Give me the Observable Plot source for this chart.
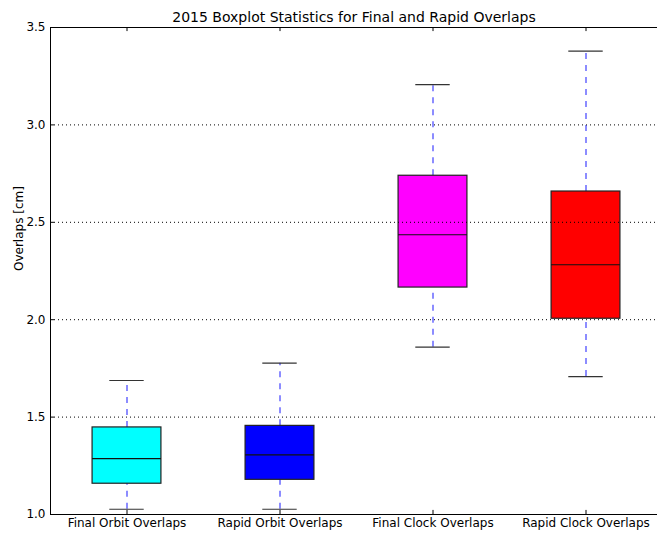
<!DOCTYPE html>
<html>
<head>
<meta charset="utf-8">
<script src="https://cdn.jsdelivr.net/npm/d3@7"></script>
<script src="https://cdn.jsdelivr.net/npm/@observablehq/plot@0.6"></script>
<style>
  html, body { margin: 0; padding: 0; background: #fff; }
  #chart { width: 657px; height: 533px; }
</style>
</head>
<body>
<div id="chart"></div>
<script>
// ---- data ----
const categories = ["Final Orbit Overlaps", "Rapid Orbit Overlaps", "Final Clock Overlaps", "Rapid Clock Overlaps"];
const colors = ["#00ffff", "#0000ff", "#ff00ff", "#ff0000"];
const whiskerLow = [1.027, 1.027, 1.859, 1.708];
const q1 = [1.158, 1.178, 2.165, 2.005];
const median = [1.287, 1.306, 2.436, 2.282];
const q3 = [1.447, 1.455, 2.739, 2.658];
const whiskerHigh = [1.688, 1.777, 3.207, 3.379];
const yTicks = [1.0, 1.5, 2.0, 2.5, 3.0, 3.5];
const gridTicks = [1.5, 2.0, 2.5, 3.0];
const title = "2015 Boxplot Statistics for Final and Rapid Overlaps";
const yLabel = "Overlaps [cm]";

const boxWidth = 0.45;
const capWidth = boxWidth / 2;

const rows = categories.map((c, i) => ({
  pos: i + 1, name: c, color: colors[i],
  lo: whiskerLow[i], q1: q1[i], med: median[i], q3: q3[i], hi: whiskerHigh[i]
}));

const xDomain = [0.5, 4.5];
const yDomain = [1.0, 3.5];
const xTickLen = 0.026; // ~4px in data units (x)
const yTickLen = 0.021; // ~4px in data units (y)

const chart = Plot.plot({
  width: 657,
  height: 533,
  marginTop: 27,
  marginBottom: 19,
  marginLeft: 50,
  marginRight: 0,
  style: { fontFamily: "DejaVu Sans, sans-serif", fontSize: "12px", background: "white", overflow: "visible" },
  x: { type: "linear", domain: xDomain, range: [50, 662] },
  y: { type: "linear", domain: yDomain, range: [514, 27] },
  marks: [
    // whiskers (dashed)
    Plot.ruleX(rows, { x: "pos", y1: "q3", y2: "hi", stroke: "#2f2fff", strokeWidth: 1.1, strokeDasharray: "6,6" }),
    Plot.ruleX(rows, { x: "pos", y1: "lo", y2: "q1", stroke: "#2f2fff", strokeWidth: 1.1, strokeDasharray: "6,6" }),
    // caps
    Plot.ruleY(rows, { y: "hi", x1: d => d.pos - capWidth / 2, x2: d => d.pos + capWidth / 2, stroke: "#333", strokeWidth: 1.2 }),
    Plot.ruleY(rows, { y: "lo", x1: d => d.pos - capWidth / 2, x2: d => d.pos + capWidth / 2, stroke: "#333", strokeWidth: 1.2 }),
    // boxes
    Plot.rect(rows, { x1: d => d.pos - boxWidth / 2, x2: d => d.pos + boxWidth / 2, y1: "q1", y2: "q3", fill: "color", stroke: "#222", strokeWidth: 1.2 }),
    // medians
    Plot.ruleY(rows, { y: "med", x1: d => d.pos - boxWidth / 2, x2: d => d.pos + boxWidth / 2, stroke: "#111", strokeWidth: 1.2 }),
    // grid (drawn above boxes)
    Plot.ruleY(gridTicks, { stroke: "black", strokeDasharray: "1,3", strokeWidth: 1 }),
    // frame
    Plot.frame({ stroke: "black", strokeWidth: 1 }),
    // y ticks inward (left)
    Plot.ruleY(yTicks, { x1: xDomain[0], x2: xDomain[0] + xTickLen, stroke: "black" }),
    // x ticks inward (bottom & top)
    Plot.ruleX(rows, { x: "pos", y1: yDomain[0], y2: yDomain[0] + yTickLen, stroke: "black" }),
    Plot.ruleX(rows, { x: "pos", y1: yDomain[1] - yTickLen, y2: yDomain[1], stroke: "black" }),
    // axes labels
    Plot.axisY(yTicks, { tickSize: 0, tickPadding: 5, tickFormat: d3.format(".1f"), label: null, fontSize: 12, fill: "black" }),
    Plot.axisX(rows.map(d => d.pos), { tickSize: 0, tickPadding: 4, tickFormat: p => categories[p - 1], label: null, fontSize: 12, fill: "black" }),
    // title
    Plot.text([title], { frameAnchor: "top", dy: -6, text: d => d, fontSize: 14, fill: "black", lineAnchor: "bottom" }),
    // y label
    Plot.text([yLabel], { frameAnchor: "left", dx: -31, rotate: -90, text: d => d, fontSize: 12, fill: "black" })
  ]
});
document.getElementById("chart").appendChild(chart);
</script>
</body>
</html>
